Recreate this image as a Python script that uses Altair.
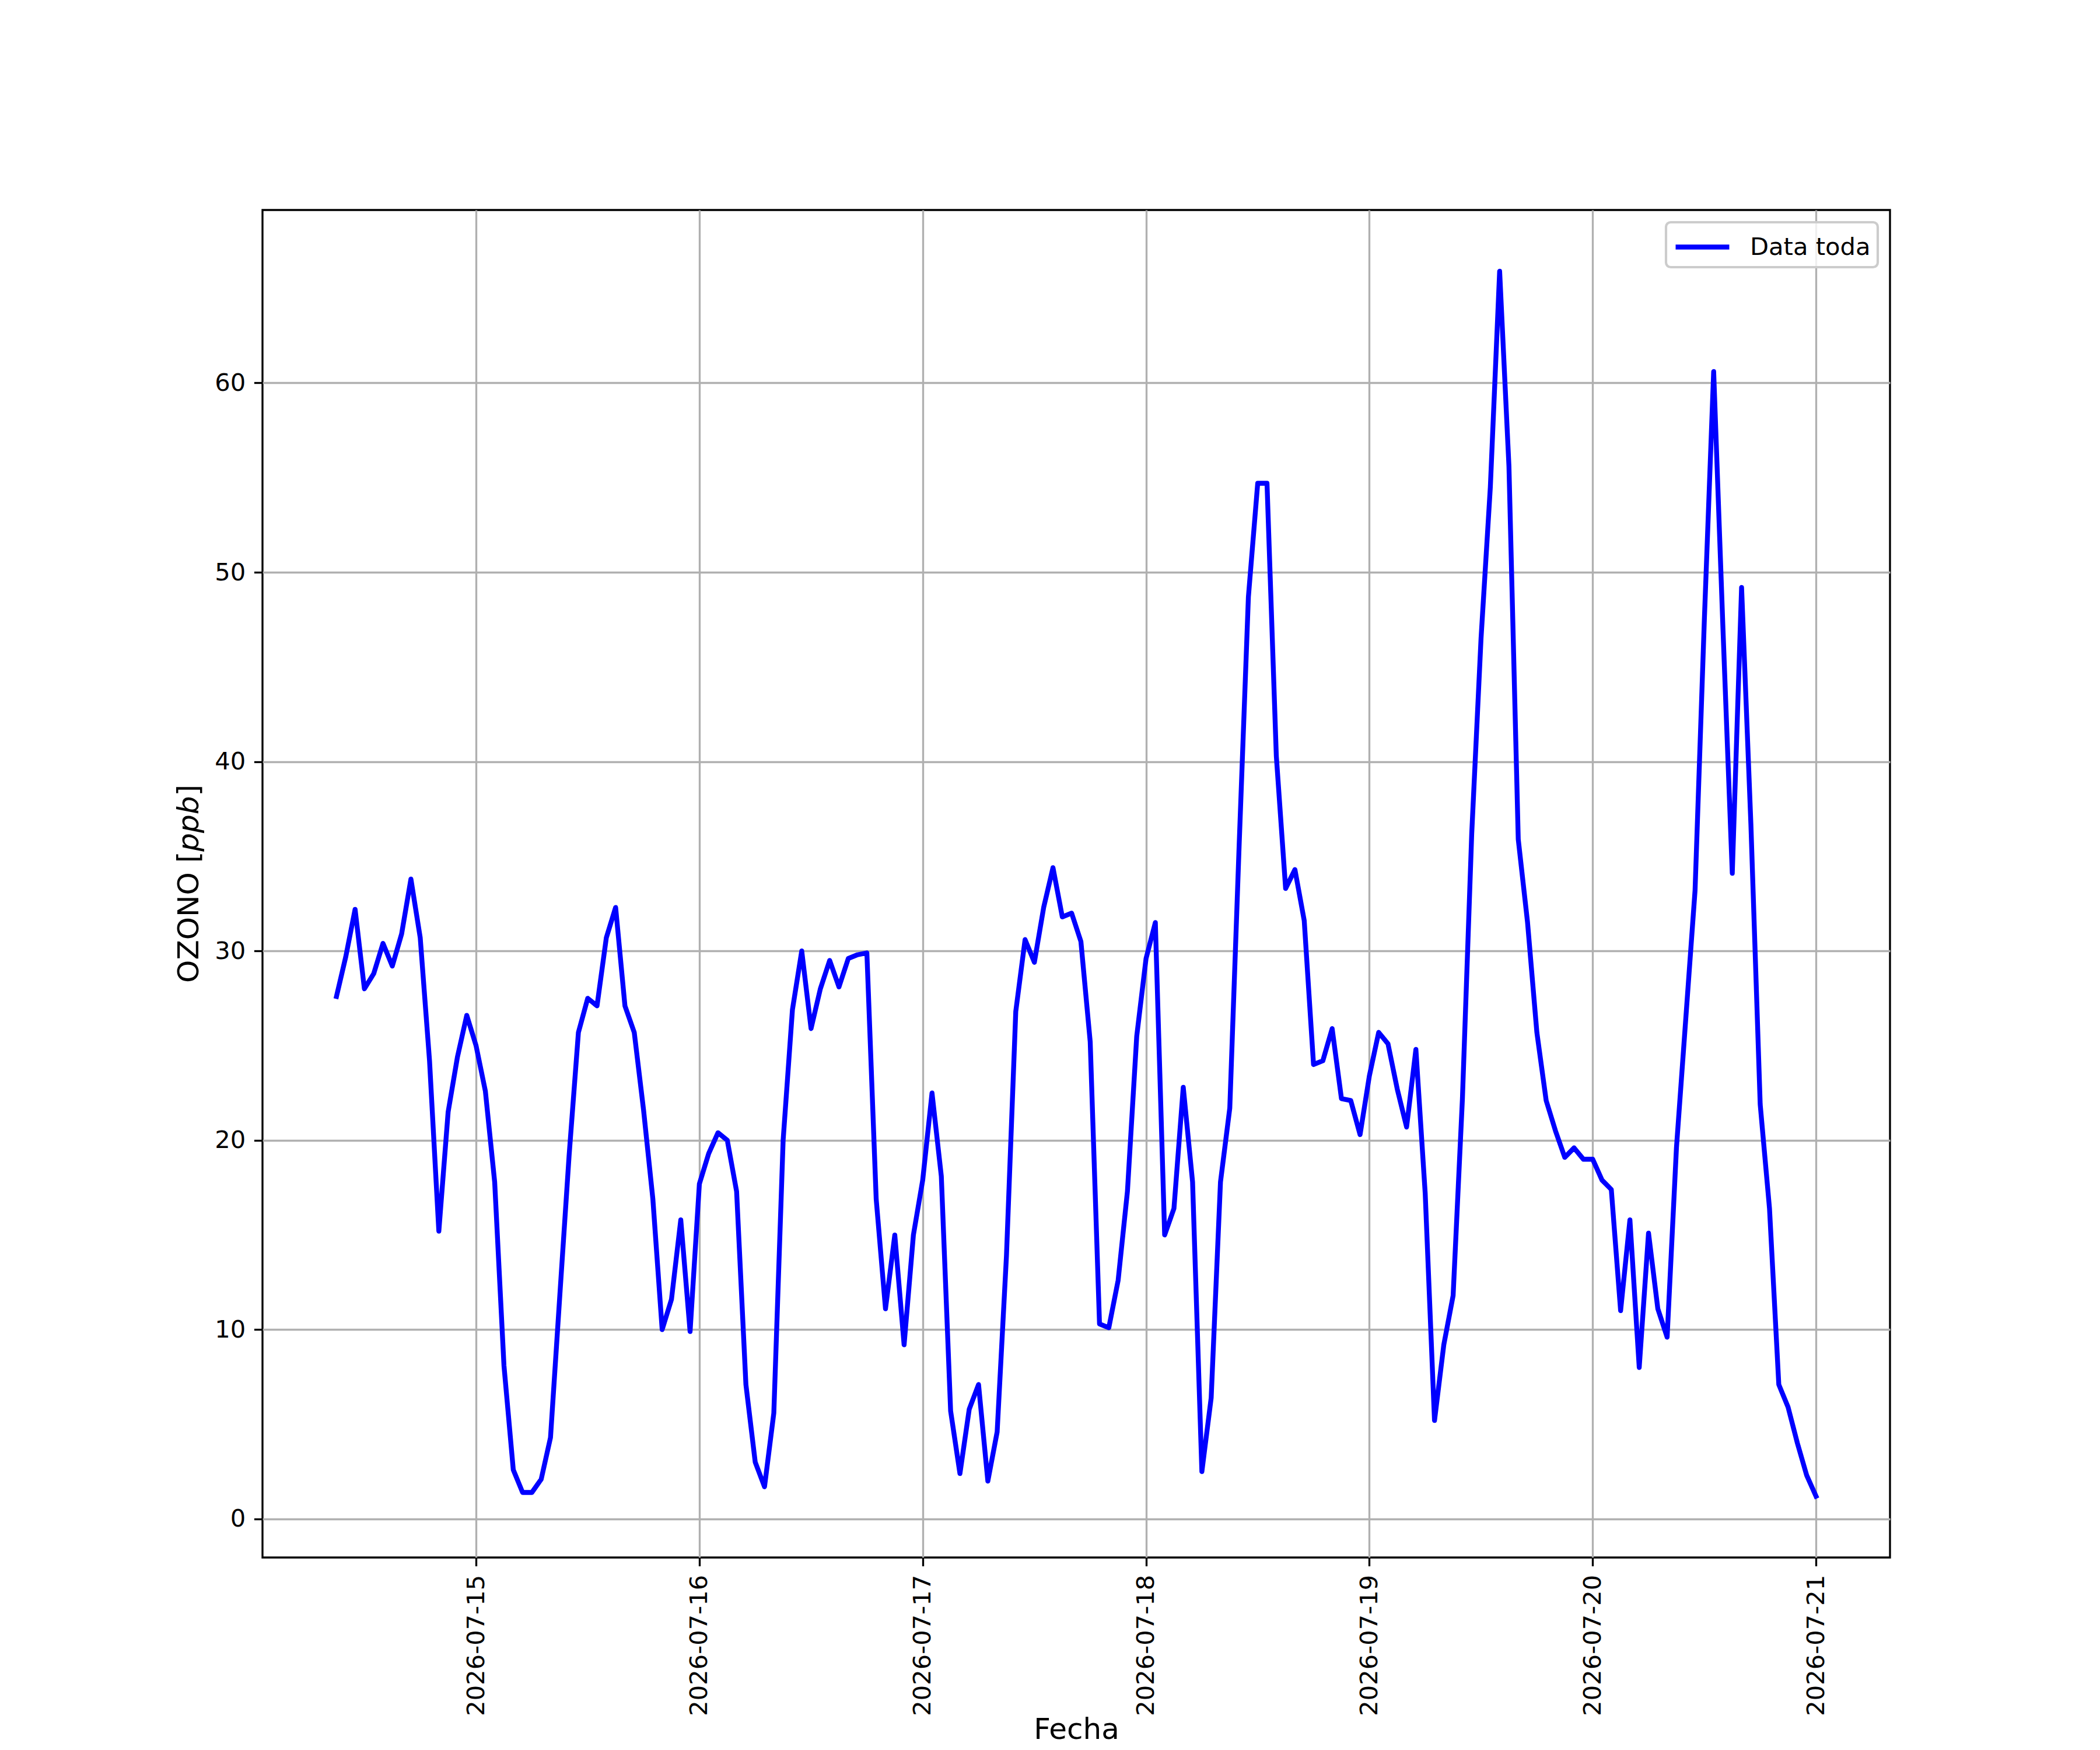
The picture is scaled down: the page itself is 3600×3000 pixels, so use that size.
import altair as alt
import pandas as pd

# ---- data (hourly ozone readings) ----
inicio = "2026-07-14T09:00:00"
ozono = [
    27.6, 29.7, 32.2, 28.0, 28.8, 30.4, 29.2, 30.9, 33.8, 30.7,
    24.2, 15.2, 21.5, 24.4, 26.6, 25.0, 22.6, 17.8, 8.1, 2.6,
    1.4, 1.4, 2.1, 4.3, 11.8, 19.2, 25.7, 27.5, 27.1, 30.7,
    32.3, 27.1, 25.7, 21.6, 16.9, 10.0, 11.6, 15.8, 9.9, 17.7,
    19.3, 20.4, 20.0, 17.3, 7.1, 3.0, 1.7, 5.6, 20.0, 26.9,
    30.0, 25.9, 28.0, 29.5, 28.1, 29.6, 29.8, 29.9, 16.9, 11.1,
    15.0, 9.2, 15.0, 17.9, 22.5, 18.1, 5.7, 2.4, 5.8, 7.1,
    2.0, 4.6, 13.9, 26.8, 30.6, 29.4, 32.3, 34.4, 31.8, 32.0,
    30.5, 25.2, 10.3, 10.1, 12.6, 17.3, 25.5, 29.6, 31.5, 15.0,
    16.4, 22.8, 17.8, 2.5, 6.4, 17.8, 21.7, 35.5, 48.7, 54.7,
    54.7, 40.3, 33.3, 34.3, 31.6, 24.0, 24.2, 25.9, 22.2, 22.1,
    20.3, 23.4, 25.7, 25.1, 22.7, 20.7, 24.8, 17.2, 5.2, 9.2,
    11.8, 22.2, 36.2, 46.5, 54.5, 65.9, 55.6, 35.9, 31.5, 25.7,
    22.1, 20.5, 19.1, 19.6, 19.0, 19.0, 17.9, 17.4, 11.0, 15.8,
    8.0, 15.1, 11.1, 9.6, 19.6, 26.4, 33.2, 47.5, 60.6, 47.0,
    34.1, 49.2, 36.7, 21.9, 16.4, 7.1, 5.9, 4.0, 2.3, 1.2,
]
serie = "Data toda"
dias_ticks = [15, 16, 17, 18, 19, 20, 21]
y_ticks = [0, 10, 20, 30, 40, 50, 60]

fechas = pd.date_range(inicio, periods=len(ozono), freq="h")
df = pd.DataFrame({
    "fecha": fechas.strftime("%Y-%m-%dT%H:%M:%SZ"),
    "ozono": ozono,
    "serie": serie,
})

# matplotlib-like 5% margins
tmin, tmax = fechas.min(), fechas.max()
tm = (tmax - tmin) * 0.05
d0, d1 = tmin - tm, tmax + tm


def dt(t):
    return alt.DateTime(year=t.year, month=t.month, date=t.day, hours=t.hour,
                        minutes=t.minute, seconds=t.second, utc=True)


ymin, ymax = min(ozono), max(ozono)
ym = (ymax - ymin) * 0.05

FONT = "DejaVu Sans"
PT = 300 / 72.0
W, H = 2790, 2310

linea = alt.Chart(df).mark_line(
    strokeWidth=2 * PT, strokeJoin="round", strokeCap="square"
).encode(
    x=alt.X(
        "fecha:T",
        scale=alt.Scale(type="utc", domain=[dt(d0), dt(d1)], nice=False),
        axis=alt.Axis(
            values=[alt.DateTime(year=2026, month=7, date=d, utc=True) for d in dias_ticks],
            labelExpr="utcFormat(datum.value, '%Y-%m-%d')",
            labelAngle=270, labelAlign="right", labelBaseline="middle",
            labelOverlap=False, labelFlush=False, labelLimit=0,
            title="Fecha", titleY=310, titleBaseline="alphabetic",
        ),
    ),
    y=alt.Y(
        "ozono:Q",
        scale=alt.Scale(domain=[ymin - ym, ymax + ym], nice=False, zero=False),
        axis=alt.Axis(values=y_ticks, title=None, labelFlush=False),
    ),
    color=alt.Color(
        "serie:N",
        scale=alt.Scale(domain=[serie], range=["#0000ff"]),
        legend=alt.Legend(
            title=None, orient="top-right", offset=21, padding=12,
            fillColor="rgba(255,255,255,0.8)", strokeColor="#cccccc",
            cornerRadius=8,
            symbolType="M-1,0H2.538", symbolSize=52 * 52,
            symbolStrokeWidth=2 * PT, symbolStrokeColor="#0000ff",
            labelFont=FONT, labelFontSize=10 * PT, labelColor="black",
            labelOffset=71, labelLimit=0,
        ),
    ),
)

# y-axis title with italic unit, like matplotlib mathtext
tf = 12 * PT
titulo = [("OZONO [", "normal", 0.0), ("ppb", "italic", 4.502), ("]", "normal", 4.502 + 1.905)]
total = (4.502 + 1.905 + 0.390) * tf
y0 = H / 2 + total / 2
capas = [linea]
for txt, estilo, off in titulo:
    capas.append(
        alt.Chart(pd.DataFrame({"t": [txt]})).mark_text(
            angle=270, align="left", baseline="alphabetic", font=FONT,
            fontSize=tf, fontStyle=estilo, color="black",
        ).encode(text="t:N", x=alt.value(-110), y=alt.value(y0 - off * tf))
    )

chart = alt.layer(*capas).properties(
    width=W, height=H,
    autosize=alt.AutoSizeParams(type="none"),
    padding={"left": 442, "top": 352, "right": 352, "bottom": 322},
    background="white",
).configure_view(
    stroke="black", strokeWidth=0.8 * PT,
).configure_axis(
    domain=False,
    grid=True, gridColor="#b0b0b0", gridWidth=0.8 * PT,
    ticks=True, tickColor="black", tickWidth=0.8 * PT, tickSize=3.5 * PT,
    labelPadding=3.5 * PT, labelFont=FONT, labelFontSize=10 * PT, labelColor="black",
    titleFont=FONT, titleFontSize=12 * PT, titleFontWeight="normal", titleColor="black",
).configure_legend(
    strokeWidth=1 * PT,
)

chart.save("out.html", embed_options={"renderer": "svg", "actions": False})
